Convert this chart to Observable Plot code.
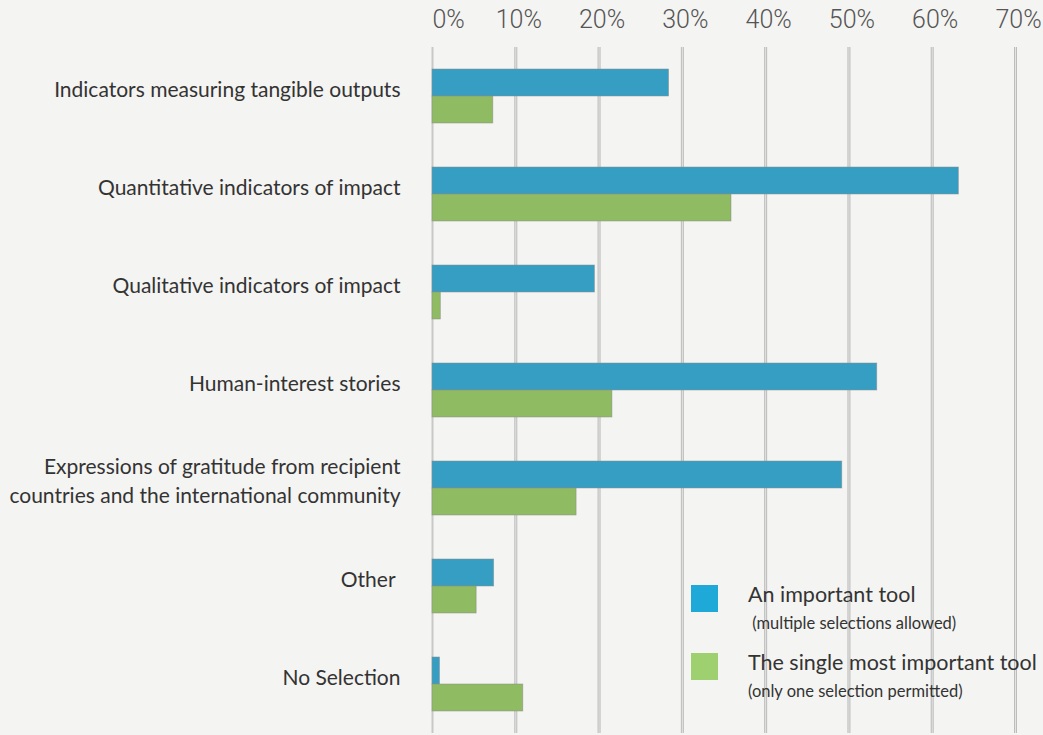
<!DOCTYPE html>
<html>
<head>
<meta charset="utf-8">
<script src="https://cdn.jsdelivr.net/npm/d3@7"></script>
<script src="https://cdn.jsdelivr.net/npm/@observablehq/plot@0.6"></script>
<style>
  html, body { margin: 0; padding: 0; background: #f4f4f2; }
  #wrap { position: relative; width: 1043px; height: 735px; overflow: hidden; background: #f4f4f2; }
  #legend { position: absolute; left: 0; top: 0; pointer-events: none; }
</style>
</head>
<body>
<div id="wrap"></div>
<script>
const categories = [
  "Indicators measuring tangible outputs",
  "Quantitative indicators of impact",
  "Qualitative indicators of impact",
  "Human-interest stories",
  "Expressions of gratitude from recipient countries and the international community",
  "Other",
  "No Selection"
];
const categoryLabels = [
  "Indicators measuring tangible outputs",
  "Quantitative indicators of impact",
  "Qualitative indicators of impact",
  "Human-interest stories",
  "Expressions of gratitude from recipient\ncountries and the international community",
  "Other ",
  "No Selection"
];
const series = ["An important tool", "The single most important tool"];
const seriesNotes = ["\u00a0(multiple selections allowed)", "(only one selection permitted)"];
const importantTool = [28.4, 63.2, 19.5, 53.4, 49.2, 7.4, 0.9];
const singleMostImportant = [7.3, 35.9, 1.0, 21.6, 17.3, 5.3, 10.9];
const xTicks = [0, 10, 20, 30, 40, 50, 60, 70];
const barColors = ["#369ec3", "#8fbb62"];
const legendColors = ["#1fa9d8", "#9fd070"];

const rows = [];
categories.forEach((c, i) => {
  rows.push({category: c, series: series[0], value: importantTool[i]});
  rows.push({category: c, series: series[1], value: singleMostImportant[i]});
});
const labelOf = new Map(categories.map((c, i) => [c, categoryLabels[i]]));

const chart = Plot.plot({
  width: 1043,
  height: 735,
  marginLeft: 432,
  marginRight: 28,
  marginTop: 45,
  marginBottom: 1,
  style: {background: "#f4f4f2", overflow: "visible"},
  x: {domain: [0, 70], axis: null},
  fy: {domain: categories, padding: 0, axis: null},
  y: {domain: series, paddingInner: 0, paddingOuter: 0.758, axis: null},
  color: {domain: series, range: barColors},
  marks: [
    Plot.ruleX(xTicks.filter(d => d > 0), {x: d => d, stroke: "#bcbcbc", strokeWidth: 3}),
    Plot.ruleX(xTicks.filter(d => d > 0), {x: d => d, stroke: "#e4e4e4", strokeWidth: 1}),
    Plot.ruleX([0], {x: d => d, stroke: "#c8c8c8", strokeWidth: 2}),
    Plot.barX(rows, {
      x: "value", y: "series", fy: "category", fill: "series",
      stroke: "#8a8a8a", strokeWidth: 0.8, strokeOpacity: 0.6
    }),
    Plot.axisX({
      anchor: "top", ticks: xTicks.filter(d => d > 0), tickSize: 0, tickPadding: 20, label: null,
      tickFormat: d => d + "%", fontSize: 25, fill: "#555", dx: 3,
      fontFamily: "Roboto", fontWeight: 300
    }),
    Plot.axisX({
      anchor: "top", ticks: [0], tickSize: 0, tickPadding: 20, label: null,
      tickFormat: d => d + "%", fontSize: 25, fill: "#555", textAnchor: "start",
      fontFamily: "Roboto", fontWeight: 300
    }),
    Plot.axisFy({
      anchor: "left", tickSize: 0, tickPadding: 32, label: null,
      tickFormat: d => labelOf.get(d), fontSize: 21, fill: "#333",
      fontFamily: "Lato", lineHeight: 1.38, dy: -9, textOverflow: null, lineWidth: Infinity
    })
  ]
});
chart.style.fontFamily = "Lato";
document.getElementById("wrap").appendChild(chart);

// Legend (inside the plot area, lower right)
const lg = d3.select("#wrap").append("svg")
  .attr("id", "legend").attr("width", 1043).attr("height", 735);
const item = lg.selectAll("g").data(series).join("g")
  .attr("transform", (d, i) => `translate(691, ${585 + i * 68})`);
item.append("rect").attr("width", 27).attr("height", 27)
  .attr("fill", (d, i) => legendColors[i]);
item.append("text").attr("x", 57).attr("y", 17)
  .attr("font-family", "Lato").attr("font-size", 21.5).attr("fill", "#333")
  .text(d => d);
item.append("text").attr("x", 57).attr("y", 44)
  .attr("font-family", "Lato").attr("font-size", 16.5).attr("fill", "#333")
  .text((d, i) => seriesNotes[i]);
</script>
</body>
</html>
